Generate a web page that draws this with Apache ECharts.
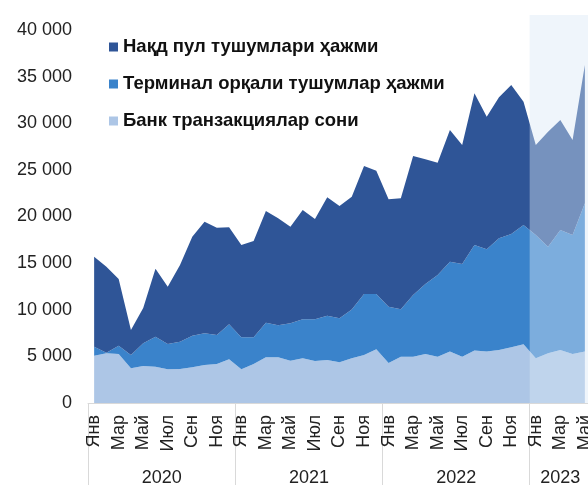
<!DOCTYPE html>
<html>
<head>
<meta charset="utf-8">
<script src="https://cdn.jsdelivr.net/npm/echarts@6/dist/echarts.min.js"></script>
<style>
  html, body { margin: 0; padding: 0; background: #fff; }
  #chart { width: 588px; height: 485px; }
</style>
</head>
<body>
<div id="chart"></div>
<script>
const years = ['2020', '2021', '2022', '2023']
const monthNames = ['Янв', 'Фев', 'Мар', 'Апр', 'Май', 'Июн', 'Июл', 'Авг', 'Сен', 'Окт', 'Ноя', 'Дек']
const monthsIn2023 = 5
const yTicks = [0, 5000, 10000, 15000, 20000, 25000, 30000, 35000, 40000]

const seriesNames = ['Нақд пул тушумлари ҳажми', 'Терминал орқали тушумлар ҳажми', 'Банк транзакциялар сони']

// Банк транзакциялар сони (пастки қатлам)
const bankData = [
  5080, 5330, 5250, 3720, 3970, 3900, 3610, 3650, 3830, 4080, 4180, 4680,
  3610, 4180, 4900, 4900, 4540, 4790, 4500, 4610, 4360, 4790, 5150, 5760,
  4300, 4970, 4970, 5250, 4970, 5510, 4970, 5620, 5510, 5680, 5970, 6300,
  4790, 5330, 5680, 5250, 5510
]
// Терминал орқали тушумлар ҳажми
const terminalData = [
  960, 70, 900, 1430, 2430, 3210, 2720, 2930, 3390, 3390, 3110, 3760,
  3430, 2860, 3710, 3430, 4010, 4180, 4470, 4750, 4720, 5250, 6540, 5930,
  6030, 5080, 6610, 7510, 8760, 9640, 9940, 11320, 10970, 11980, 12150, 12800,
  13230, 11430, 12870, 12770, 15910
]
// Нақд пул тушумлари ҳажми
const cashData = [
  9650, 9220, 7150, 2680, 3790, 7290, 6140, 8220, 10610, 11970, 11510, 10410,
  9900, 10330, 11980, 11470, 10360, 11730, 10760, 12700, 12050, 12090, 13730, 13220,
  11510, 11900, 14910, 13370, 12040, 14130, 12760, 16270, 14220, 15120, 15980, 13200,
  9650, 12340, 11800, 10180, 14830
]

const categories = []
years.forEach((y, yi) => {
  const n = yi === years.length - 1 ? monthsIn2023 : 12
  for (let m = 0; m < n; m++) categories.push(monthNames[m] + ' ' + y)
})

const fontFamily = '"Liberation Sans", Arial, sans-serif'
const chart = echarts.init(document.getElementById('chart'))

const fmtThousands = (v) => String(v).replace(/\B(?=(\d{3})+(?!\d))/g, ' ')

const areaSeries = (name, data, color) => ({
  name: name,
  type: 'line',
  stack: 'total',
  data: data,
  showSymbol: false,
  symbol: 'none',
  lineStyle: { width: 0 },
  itemStyle: { color: color },
  areaStyle: { color: color, opacity: 1 }
})

const option = {
  animation: false,
  textStyle: { fontFamily: fontFamily },
  // расм ўнг томонда кесилган, шунинг учун grid ойнадан чиқиб кетади
  grid: { left: 88, top: 30, width: 503, height: 373, containLabel: false, outerBoundsMode: 'none' },
  legend: {
    orient: 'vertical',
    left: 104,
    top: 32,
    itemWidth: 9,
    itemHeight: 9,
    itemGap: 17,
    icon: 'rect',
    data: seriesNames,
    textStyle: { fontSize: 18.5, fontWeight: 'bold', color: '#111', lineHeight: 20, fontFamily: fontFamily }
  },
  xAxis: [
    {
      type: 'category',
      data: categories,
      boundaryGap: true,
      axisLine: { show: true, lineStyle: { color: '#d9d9d9', width: 1 } },
      axisTick: { show: false },
      axisLabel: {
        interval: 1,
        rotate: 90,
        margin: 12,
        fontSize: 18,
        color: '#222',
        formatter: (v) => v.split(' ')[0]
      }
    },
    {
      type: 'category',
      data: categories,
      position: 'bottom',
      boundaryGap: true,
      axisLine: { show: false },
      axisTick: {
        show: true,
        length: 82,
        interval: (idx) => idx % 12 === 0,
        lineStyle: { color: '#d9d9d9', width: 1 }
      },
      axisLabel: {
        margin: 66,
        fontSize: 18,
        color: '#222',
        interval: (idx) => (idx % 12 === 6 && idx < 36) || idx === 36 + Math.floor(monthsIn2023 / 2),
        formatter: (v, idx) => {
          const y = v.split(' ')[1]
          return idx < 36 ? '{s|' + y + '}' : '{c|' + y + '}'
        },
        rich: {
          s: { fontSize: 18, color: '#222', padding: [0, 12, 0, 0] },
          c: { fontSize: 18, color: '#222' }
        }
      }
    }
  ],
  yAxis: {
    type: 'value',
    min: yTicks[0],
    max: yTicks[yTicks.length - 1],
    interval: yTicks[1] - yTicks[0],
    axisLine: { show: false },
    axisTick: { show: false },
    splitLine: { show: false },
    axisLabel: {
      margin: 16,
      fontSize: 18,
      color: '#222',
      formatter: fmtThousands
    }
  },
  series: [
    areaSeries(seriesNames[2], bankData, '#adc6e6'),
    areaSeries(seriesNames[1], terminalData, '#3a83cb'),
    areaSeries(seriesNames[0], cashData, '#2f5597')
  ]
}

chart.setOption(option)

// 2023 йил учун оч рангли қоплама
const lastIdx = categories.length - 1
const startIdx = 36
const xStart = (chart.convertToPixel({ xAxisIndex: 0 }, startIdx - 1) + chart.convertToPixel({ xAxisIndex: 0 }, startIdx)) / 2
const xEnd = chart.convertToPixel({ xAxisIndex: 0 }, lastIdx) + 20
const yTop = chart.convertToPixel({ yAxisIndex: 0 }, yTicks[yTicks.length - 1]) - 15
const yBottom = chart.convertToPixel({ yAxisIndex: 0 }, 0)

chart.setOption({
  graphic: [{
    type: 'rect',
    z: 100,
    shape: { x: xStart, y: yTop, width: xEnd - xStart, height: yBottom - yTop },
    style: { fill: 'rgba(218,231,245,0.42)' }
  }]
})
</script>
</body>
</html>
